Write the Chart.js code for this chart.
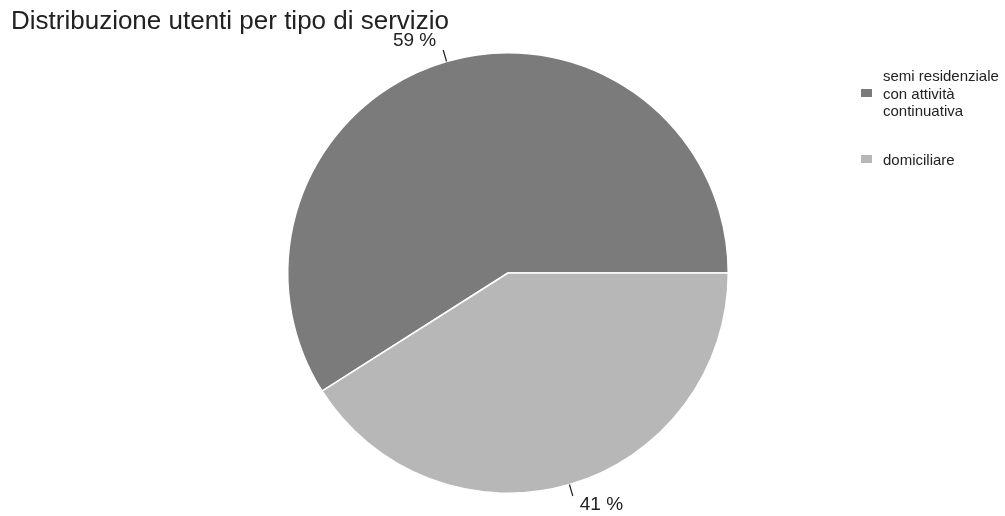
<!DOCTYPE html>
<html>
<head>
<meta charset="utf-8">
<script src="https://cdn.jsdelivr.net/npm/chart.js@4/dist/chart.umd.min.js"></script>
<style>
  html, body { margin: 0; padding: 0; background: #fff; }
  #wrap { position: relative; width: 1005px; height: 516px; font-family: "Liberation Sans", Arial, sans-serif; color: #222; }
  #title { position: absolute; left: 11px; top: 5px; font-size: 26px; white-space: nowrap; }
  #legend { position: absolute; left: 861px; top: 67px; font-size: 15px; line-height: 17.5px; }
  .item { display: flex; align-items: center; margin-bottom: 31px; }
  .box { width: 11px; height: 8px; margin-right: 11px; flex: none; }
</style>
</head>
<body>
<div id="wrap">
  <canvas id="chartTorta" width="1005" height="516"></canvas>
  <div id="title"></div>
  <div id="legend"></div>
</div>
<script>
// dati
const titolo = "Distribuzione utenti per tipo di servizio";
const categorie = ["semi residenziale\ncon attività\ncontinuativa", "domiciliare"];
const valori = [59, 41];
const colori = ["#7b7b7b", "#b7b7b7"];

document.getElementById("title").textContent = titolo;

// legenda html
const legend = document.getElementById("legend");
categorie.forEach((c, i) => {
  const item = document.createElement("div");
  item.className = "item";
  const box = document.createElement("span");
  box.className = "box";
  box.style.background = colori[i];
  const txt = document.createElement("span");
  txt.innerHTML = c.split("\n").join("<br>");
  item.appendChild(box);
  item.appendChild(txt);
  legend.appendChild(item);
});

const totale = valori.reduce((s, v) => s + v, 0);

// etichette percentuali con linea
const etichette = {
  id: "etichette",
  afterDatasetsDraw(chart) {
    const ctx = chart.ctx;
    const meta = chart.getDatasetMeta(0);
    meta.data.forEach((arc, i) => {
      const p = arc.getProps(["x", "y", "startAngle", "endAngle", "outerRadius"], true);
      const mid = (p.startAngle + p.endAngle) / 2;
      const r = p.outerRadius;
      ctx.save();
      ctx.strokeStyle = "#222";
      ctx.lineWidth = 1.2;
      ctx.beginPath();
      ctx.moveTo(p.x + Math.cos(mid) * r, p.y + Math.sin(mid) * r);
      ctx.lineTo(p.x + Math.cos(mid) * (r + 12), p.y + Math.sin(mid) * (r + 12));
      ctx.stroke();
      const a = mid - 0.1;
      ctx.fillStyle = "#222";
      ctx.font = "19px 'Liberation Sans', Arial, sans-serif";
      ctx.textAlign = "center";
      ctx.textBaseline = "middle";
      const pct = Math.round(valori[i] / totale * 100) + " %";
      ctx.fillText(pct, p.x + Math.cos(a) * (r + 30), p.y + Math.sin(a) * (r + 30));
      ctx.restore();
    });
  }
};

new Chart(document.getElementById("chartTorta"), {
  type: "pie",
  data: {
    labels: categorie,
    datasets: [{
      data: valori,
      backgroundColor: colori,
      borderColor: "#ffffff",
      borderWidth: 1.5
    }]
  },
  options: {
    responsive: false,
    animation: false,
    rotation: 90 + 360 * valori[1] / totale,
    layout: { padding: { top: 52, bottom: 22, left: 100, right: 89 } },
    plugins: {
      legend: { display: false },
      tooltip: { enabled: false }
    }
  },
  plugins: [etichette]
});
</script>
</body>
</html>
